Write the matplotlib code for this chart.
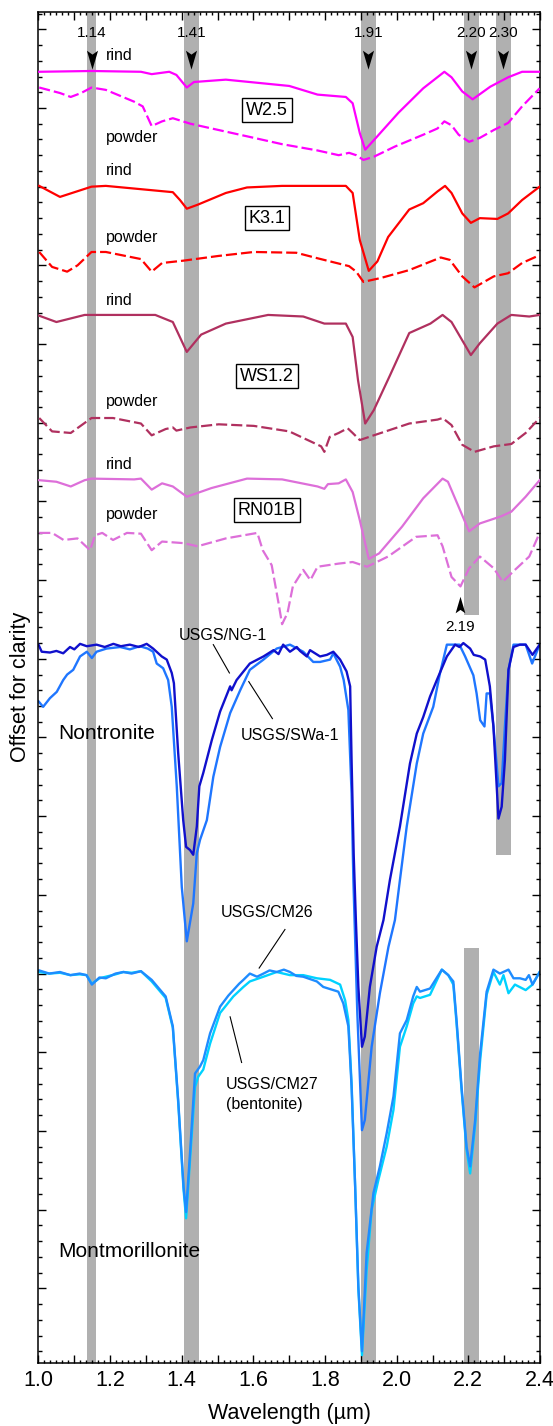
import numpy as np
import matplotlib
matplotlib.use("Agg")
import matplotlib.pyplot as plt
from matplotlib.path import Path
from matplotlib.ticker import FixedLocator, MultipleLocator, FuncFormatter

plt.rcParams['font.family'] = ['Liberation Sans', 'DejaVu Sans']

# ---- absorption band markers (wavelength, um) ----
band_labels = ["1.14", "1.41", "1.91", "2.20", "2.30"]
band_lo = [1.136, 1.406, 1.900, 2.188, 2.277]
band_hi = [1.160, 1.447, 1.941, 2.229, 2.319]
band_floor = [None, None, None, 9.56, 6.51]   # lower end of shaded band (offset units)
lower_band = (2.188, 2.229, 5.33)              # second 2.20 band under montmorillonite
extra_label = "2.19"
extra_wl = 2.178

# ---- field samples (offset units) ----
w25_rind_wl = [1.002, 1.148, 1.286, 1.316, 1.365, 1.385, 1.414, 1.434, 1.523, 1.700, 1.779, 1.858, 1.877,
               1.897, 1.912, 1.936, 2.005, 2.074, 2.133, 2.153, 2.183, 2.212, 2.261, 2.311, 2.350, 2.399]
w25_rind = [16.46, 16.47, 16.46, 16.43, 16.46, 16.42, 16.26, 16.33, 16.36, 16.28, 16.17, 16.14, 16.06,
            15.68, 15.47, 15.59, 15.94, 16.25, 16.46, 16.39, 16.21, 16.11, 16.27, 16.39, 16.46, 16.46]

w25_powder_wl = [1.002, 1.060, 1.090, 1.119, 1.148, 1.188, 1.267, 1.291, 1.316, 1.345, 1.375, 1.424, 1.483,
                 1.582, 1.680, 1.779, 1.838, 1.867, 1.887, 1.907, 1.936, 1.995, 2.074, 2.114, 2.133, 2.153,
                 2.173, 2.202, 2.232, 2.271, 2.311, 2.350, 2.399]
w25_powder = [16.26, 16.19, 16.14, 16.19, 16.26, 16.23, 16.08, 16.02, 15.77, 15.83, 15.87, 15.80, 15.74,
              15.64, 15.54, 15.46, 15.40, 15.43, 15.40, 15.34, 15.38, 15.51, 15.66, 15.74, 15.83, 15.78,
              15.66, 15.57, 15.62, 15.72, 15.81, 16.02, 16.25]

k31_rind_wl = [1.002, 1.060, 1.148, 1.188, 1.375, 1.395, 1.414, 1.444, 1.523, 1.582, 1.680, 1.858, 1.877,
               1.897, 1.922, 1.946, 1.976, 2.035, 2.074, 2.114, 2.135, 2.153, 2.183, 2.207, 2.232, 2.281,
               2.311, 2.350, 2.399]
k31_rind = [15.01, 14.87, 15.00, 15.01, 14.93, 14.83, 14.72, 14.77, 14.92, 14.99, 15.01, 15.01, 14.92,
            14.32, 13.93, 14.05, 14.36, 14.71, 14.79, 14.94, 15.01, 14.92, 14.66, 14.54, 14.60, 14.59,
            14.66, 14.83, 15.00]

k31_powder_wl = [1.002, 1.038, 1.080, 1.109, 1.148, 1.188, 1.286, 1.316, 1.345, 1.405, 1.503, 1.601, 1.720,
                 1.779, 1.867, 1.887, 1.907, 1.956, 2.035, 2.123, 2.148, 2.183, 2.217, 2.271, 2.311, 2.350,
                 2.399]
k31_powder = [14.17, 13.98, 13.92, 14.00, 14.17, 14.17, 14.08, 13.92, 14.03, 14.06, 14.12, 14.17, 14.16,
              14.09, 13.99, 13.92, 13.79, 13.84, 13.94, 14.10, 14.07, 13.86, 13.72, 13.86, 13.90, 14.03,
              14.13]

ws12_rind_wl = [1.002, 1.050, 1.129, 1.326, 1.375, 1.414, 1.454, 1.523, 1.641, 1.739, 1.798, 1.858, 1.877,
                1.892, 1.912, 1.936, 1.981, 2.035, 2.094, 2.128, 2.153, 2.207, 2.232, 2.281, 2.320, 2.370,
                2.399]
ws12_rind = [13.36, 13.28, 13.37, 13.37, 13.28, 12.90, 13.12, 13.26, 13.37, 13.35, 13.26, 13.26, 13.09,
             12.54, 11.99, 12.16, 12.60, 13.14, 13.26, 13.37, 13.28, 12.86, 13.01, 13.26, 13.37, 13.35,
             13.37]

ws12_powder_wl = [1.002, 1.038, 1.090, 1.148, 1.208, 1.286, 1.316, 1.355, 1.375, 1.385, 1.424, 1.503, 1.601,
                  1.700, 1.789, 1.798, 1.813, 1.838, 1.863, 1.877, 1.897, 1.936, 2.035, 2.114, 2.128, 2.153,
                  2.183, 2.217, 2.271, 2.320, 2.360, 2.399]
ws12_powder = [12.06, 11.89, 11.87, 12.06, 12.06, 11.99, 11.84, 11.92, 11.94, 11.90, 11.94, 11.98, 11.96,
               11.89, 11.70, 11.63, 11.82, 11.87, 11.93, 11.87, 11.78, 11.84, 11.99, 12.04, 12.06, 11.97,
               11.72, 11.63, 11.70, 11.73, 11.87, 12.06]

rn01b_rind_wl = [1.002, 1.050, 1.090, 1.129, 1.148, 1.267, 1.286, 1.316, 1.345, 1.375, 1.414, 1.483, 1.582,
                 1.680, 1.779, 1.798, 1.808, 1.838, 1.858, 1.877, 1.897, 1.922, 1.951, 2.015, 2.074, 2.128,
                 2.143, 2.173, 2.202, 2.232, 2.291, 2.320, 2.360, 2.399]
rn01b_rind = [11.27, 11.25, 11.19, 11.27, 11.29, 11.28, 11.29, 11.15, 11.23, 11.19, 11.06, 11.17, 11.29,
              11.28, 11.19, 11.16, 11.22, 11.23, 11.28, 11.12, 10.76, 10.27, 10.34, 10.68, 11.04, 11.29,
              11.25, 10.93, 10.62, 10.72, 10.81, 10.87, 11.06, 11.27]

rn01b_powder_wl = [1.002, 1.038, 1.070, 1.109, 1.144, 1.158, 1.178, 1.208, 1.247, 1.286, 1.316, 1.345, 1.405,
                   1.444, 1.523, 1.611, 1.626, 1.651, 1.670, 1.680, 1.695, 1.710, 1.739, 1.759, 1.779, 1.838,
                   1.877, 1.917, 1.976, 2.054, 2.114, 2.128, 2.153, 2.178, 2.202, 2.232, 2.271, 2.296, 2.330,
                   2.370, 2.399]
rn01b_powder = [10.60, 10.60, 10.51, 10.53, 10.38, 10.57, 10.60, 10.51, 10.60, 10.59, 10.38, 10.49, 10.47,
                10.43, 10.53, 10.60, 10.38, 10.19, 9.71, 9.44, 9.58, 9.92, 10.13, 10.00, 10.17, 10.21,
                10.23, 10.17, 10.30, 10.55, 10.57, 10.43, 10.04, 9.92, 10.15, 10.30, 10.15, 9.98, 10.13,
                10.30, 10.60]

# ---- library spectra (offset units) ----
ng1_wl = [1.000, 1.009, 1.032, 1.050, 1.069, 1.088, 1.100, 1.116, 1.135, 1.162, 1.185, 1.209, 1.230, 1.255,
          1.280, 1.302, 1.320, 1.344, 1.358, 1.372, 1.378, 1.390, 1.404, 1.412, 1.423, 1.432, 1.442, 1.449,
          1.460, 1.484, 1.507, 1.535, 1.539, 1.553, 1.590, 1.628, 1.656, 1.670, 1.683, 1.702, 1.721, 1.730,
          1.749, 1.758, 1.786, 1.805, 1.823, 1.842, 1.860, 1.870, 1.874, 1.880, 1.886, 1.893, 1.903, 1.911,
          1.925, 1.944, 1.963, 1.981, 2.009, 2.037, 2.056, 2.074, 2.093, 2.112, 2.140, 2.163, 2.175, 2.186,
          2.205, 2.215, 2.233, 2.247, 2.260, 2.270, 2.284, 2.293, 2.302, 2.312, 2.326, 2.344, 2.360, 2.379,
          2.399]
ng1 = [9.18, 9.09, 9.08, 9.10, 9.07, 9.15, 9.12, 9.19, 9.16, 9.18, 9.15, 9.19, 9.16, 9.18,
       9.15, 9.19, 9.13, 9.03, 8.99, 8.82, 8.69, 7.80, 6.95, 6.61, 6.57, 6.51, 6.87, 7.38,
       7.55, 7.97, 8.33, 8.65, 8.60, 8.73, 8.94, 9.03, 9.11, 9.06, 9.18, 9.09, 9.15, 9.10,
       9.03, 9.11, 9.03, 9.05, 9.09, 8.99, 8.84, 8.65, 7.71, 6.50, 5.68, 4.83, 4.07, 4.20,
       4.83, 5.34, 5.68, 6.19, 6.87, 7.67, 8.05, 8.26, 8.52, 8.73, 9.03, 9.18, 9.15, 9.20,
       9.13, 9.05, 9.03, 8.99, 8.65, 8.14, 6.97, 7.12, 7.71, 8.86, 9.15, 9.18, 9.18, 9.05,
       9.18]

swa1_wl = [1.000, 1.013, 1.032, 1.051, 1.069, 1.080, 1.097, 1.116, 1.135, 1.149, 1.162, 1.190, 1.228, 1.255,
           1.283, 1.305, 1.320, 1.330, 1.348, 1.362, 1.372, 1.386, 1.400, 1.414, 1.432, 1.442, 1.451, 1.470,
           1.488, 1.507, 1.535, 1.563, 1.590, 1.628, 1.665, 1.702, 1.739, 1.767, 1.786, 1.814, 1.823, 1.842,
           1.852, 1.865, 1.874, 1.879, 1.890, 1.903, 1.911, 1.930, 1.953, 1.977, 1.995, 2.009, 2.028, 2.056,
           2.074, 2.102, 2.121, 2.140, 2.158, 2.175, 2.191, 2.214, 2.223, 2.233, 2.245, 2.251, 2.260, 2.270,
           2.284, 2.293, 2.302, 2.312, 2.326, 2.344, 2.360, 2.378, 2.399]
swa1 = [8.46, 8.39, 8.50, 8.58, 8.73, 8.80, 8.86, 9.03, 9.09, 9.01, 9.09, 9.13, 9.15, 9.12,
        9.16, 9.13, 9.09, 8.94, 8.88, 8.73, 8.39, 7.38, 6.10, 5.41, 5.89, 6.53, 6.70, 6.95,
        7.50, 7.88, 8.31, 8.60, 8.86, 8.99, 9.13, 9.18, 9.09, 8.96, 8.96, 8.99, 9.07, 8.90,
        8.73, 8.35, 7.29, 6.19, 4.50, 3.01, 3.14, 4.07, 4.75, 5.34, 5.68, 6.19, 6.87, 7.67,
        8.05, 8.39, 8.82, 9.18, 9.18, 9.18, 9.03, 8.79, 8.56, 8.22, 8.14, 8.56, 8.56, 8.14,
        7.38, 7.42, 8.14, 8.86, 9.18, 9.18, 9.18, 8.94, 9.18]

cm26_wl = [1.002, 1.030, 1.060, 1.089, 1.115, 1.134, 1.149, 1.170, 1.188, 1.215, 1.237, 1.260, 1.286, 1.316,
           1.355, 1.375, 1.390, 1.405, 1.412, 1.423, 1.437, 1.451, 1.460, 1.479, 1.507, 1.530, 1.544, 1.560,
           1.572, 1.590, 1.610, 1.628, 1.645, 1.665, 1.685, 1.702, 1.720, 1.739, 1.777, 1.795, 1.823, 1.837,
           1.851, 1.865, 1.874, 1.884, 1.893, 1.903, 1.916, 1.935, 1.953, 1.972, 1.991, 2.009, 2.028, 2.046,
           2.056, 2.065, 2.093, 2.126, 2.144, 2.158, 2.167, 2.181, 2.195, 2.205, 2.219, 2.233, 2.251, 2.270,
           2.288, 2.312, 2.326, 2.344, 2.360, 2.369, 2.379, 2.399]
cm26 = [5.04, 5.00, 5.02, 4.98, 5.00, 4.98, 4.86, 4.95, 4.94, 5.00, 5.02, 5.00, 5.03, 4.92,
        4.71, 4.33, 3.39, 2.29, 1.97, 2.72, 3.73, 3.82, 3.90, 4.24, 4.58, 4.72, 4.79, 4.87,
        4.92, 5.00, 4.96, 5.00, 5.04, 5.02, 5.05, 5.02, 4.97, 4.96, 4.90, 4.83, 4.79, 4.77,
        4.62, 4.33, 3.56, 2.29, 1.02, 0.20, 1.45, 2.21, 2.55, 2.97, 3.44, 4.24, 4.41, 4.71,
        4.83, 4.77, 4.81, 5.05, 4.98, 4.90, 4.41, 3.56, 2.80, 2.55, 3.14, 3.99, 4.77, 5.05,
        5.00, 5.05, 4.94, 4.94, 4.92, 4.98, 4.86, 5.02]

cm27_wl = [1.002, 1.030, 1.060, 1.089, 1.115, 1.134, 1.149, 1.170, 1.188, 1.215, 1.237, 1.260, 1.286, 1.316,
           1.355, 1.375, 1.390, 1.405, 1.412, 1.423, 1.437, 1.446, 1.460, 1.479, 1.507, 1.544, 1.572, 1.590,
           1.628, 1.665, 1.702, 1.739, 1.777, 1.814, 1.842, 1.856, 1.865, 1.874, 1.884, 1.893, 1.903, 1.916,
           1.930, 1.949, 1.972, 1.991, 2.009, 2.028, 2.046, 2.056, 2.065, 2.093, 2.126, 2.144, 2.158, 2.167,
           2.181, 2.195, 2.205, 2.219, 2.233, 2.251, 2.270, 2.288, 2.298, 2.312, 2.330, 2.360, 2.379, 2.399]
cm27 = [5.02, 5.00, 5.01, 4.98, 4.99, 4.98, 4.87, 4.94, 4.96, 4.99, 5.02, 5.01, 5.03, 4.90,
        4.69, 4.31, 3.36, 2.25, 1.89, 2.63, 3.56, 3.69, 3.78, 4.11, 4.50, 4.71, 4.83, 4.90,
        4.96, 5.02, 4.98, 4.98, 4.94, 4.92, 4.86, 4.66, 4.41, 3.61, 2.29, 0.98, 0.15, 1.23,
        2.00, 2.38, 2.80, 3.27, 4.07, 4.33, 4.62, 4.71, 4.69, 4.73, 5.05, 4.98, 4.86, 4.37,
        3.52, 2.76, 2.46, 3.08, 3.90, 4.73, 5.02, 4.86, 4.98, 4.75, 4.86, 4.79, 4.86, 5.02]

y_bottom, y_top = 0.055, 17.22
band_color = "#b0b0b0"

fig = plt.figure(figsize=(5.53, 14.26), dpi=100)
ax = fig.add_axes([0.0696, 0.0444, 0.9069, 0.9472])
ax.set_xlim(1.0, 2.4)
ax.set_ylim(y_bottom, y_top)

# shaded bands
for lo, hi, floor in zip(band_lo, band_hi, band_floor):
    b = y_bottom if floor is None else floor
    ax.fill_between([lo, hi], b, y_top, color=band_color, lw=0, zorder=0)
ax.fill_between([lower_band[0], lower_band[1]], y_bottom, lower_band[2], color=band_color, lw=0, zorder=0)

# band labels + arrowheads
down_arrow = Path([(0, -1), (-0.5, 0.7), (0, 0.35), (0.5, 0.7), (0, -1)],
                  [Path.MOVETO, Path.LINETO, Path.LINETO, Path.LINETO, Path.CLOSEPOLY])
up_arrow = Path([(0, 1), (-0.5, -0.7), (0, -0.35), (0.5, -0.7), (0, 1)],
                [Path.MOVETO, Path.LINETO, Path.LINETO, Path.LINETO, Path.CLOSEPOLY])
for lab, lo, hi in zip(band_labels, band_lo, band_hi):
    c = (lo + hi) / 2
    ax.text(c, 16.95, lab, ha="center", va="center", fontsize=11, zorder=5)
    ax.plot([c], [16.63], marker=down_arrow, ms=16, color="black", mew=0, zorder=5)
ax.plot([extra_wl], [9.67], marker=up_arrow, ms=14, color="black", mew=0, zorder=5)
ax.text(extra_wl, 9.40, extra_label, ha="center", va="center", fontsize=11, zorder=5)

dash = (0, (5, 1.8))
field = [
    (w25_rind_wl, w25_rind, "#ff00ff", "-"), (w25_powder_wl, w25_powder, "#ff00ff", dash),
    (k31_rind_wl, k31_rind, "#ff0000", "-"), (k31_powder_wl, k31_powder, "#ff0000", dash),
    (ws12_rind_wl, ws12_rind, "#b0305f", "-"), (ws12_powder_wl, ws12_powder, "#b0305f", dash),
    (rn01b_rind_wl, rn01b_rind, "#dd6fd9", "-"), (rn01b_powder_wl, rn01b_powder, "#dd6fd9", dash),
]
for wl, val, col, ls in field:
    ax.plot(wl, val, color=col, lw=1.6, ls=ls, zorder=3)

ax.plot(cm27_wl, cm27, color="#00d2ff", lw=1.7, zorder=2)
ax.plot(cm26_wl, cm26, color="#1e8cff", lw=1.7, zorder=2)
ax.plot(swa1_wl, swa1, color="#1f76ff", lw=1.7, zorder=2)
ax.plot(ng1_wl, ng1, color="#1010cc", lw=1.7, zorder=2)

# sample labels
for txt, yy in [("rind", 16.67), ("powder", 15.62), ("rind", 15.20), ("powder", 14.36),
                ("rind", 13.55), ("powder", 12.27), ("rind", 11.47), ("powder", 10.83)]:
    ax.text(1.188, yy, txt, ha="left", va="center", fontsize=11.5, zorder=5)
for txt, yy in [("W2.5", 15.97), ("K3.1", 14.60), ("WS1.2", 12.59), ("RN01B", 10.89)]:
    ax.text(1.638, yy, txt, ha="center", va="center", fontsize=13, zorder=5,
            bbox=dict(boxstyle="square,pad=0.2", fc="white", ec="black", lw=1.0))

ax.text(1.055, 8.05, "Nontronite", ha="left", va="center", fontsize=15, zorder=5)
ax.text(1.055, 1.47, "Montmorillonite", ha="left", va="center", fontsize=15, zorder=5)

ax.text(1.515, 9.30, "USGS/NG-1", ha="center", va="center", fontsize=11.5, zorder=5)
ax.plot([1.488, 1.533], [9.18, 8.82], color="black", lw=0.8, zorder=5)
ax.text(1.702, 8.03, "USGS/SWa-1", ha="center", va="center", fontsize=11.5, zorder=5)
ax.plot([1.587, 1.653], [8.71, 8.24], color="black", lw=0.8, zorder=5)
ax.text(1.637, 5.77, "USGS/CM26", ha="center", va="center", fontsize=11.5, zorder=5)
ax.plot([1.688, 1.616], [5.56, 5.07], color="black", lw=0.8, zorder=5)
ax.text(1.523, 3.46, "USGS/CM27\n(bentonite)", ha="left", va="center", fontsize=11.5,
        linespacing=1.45, zorder=5)
ax.plot([1.535, 1.567], [4.45, 3.87], color="black", lw=0.8, zorder=5)

# axes styling
ax.xaxis.set_major_locator(FixedLocator(np.round(np.arange(1.0, 2.401, 0.1), 2)))
ax.xaxis.set_major_formatter(FuncFormatter(
    lambda x, p: f"{x:.1f}" if abs(round(x * 10) % 2) < 1e-6 else ""))
ax.xaxis.set_minor_locator(MultipleLocator(0.2 / 12))
ax.yaxis.set_major_locator(MultipleLocator(1.0))
ax.yaxis.set_minor_locator(MultipleLocator(0.2))
ax.tick_params(axis="both", which="both", direction="in", top=True, right=True, width=1.0)
ax.tick_params(axis="x", which="major", length=5.5, labelsize=15.5, pad=5)
ax.tick_params(axis="x", which="minor", length=2.5)
ax.tick_params(axis="y", which="major", length=6, labelleft=False)
ax.tick_params(axis="y", which="minor", length=3)
for s in ax.spines.values():
    s.set_linewidth(1.1)

ax.set_xlabel("Wavelength (µm)", fontsize=15.5, labelpad=9)
ax.set_ylabel("Offset for clarity", fontsize=15.5, labelpad=2)

fig.savefig("out.png", dpi=100)
